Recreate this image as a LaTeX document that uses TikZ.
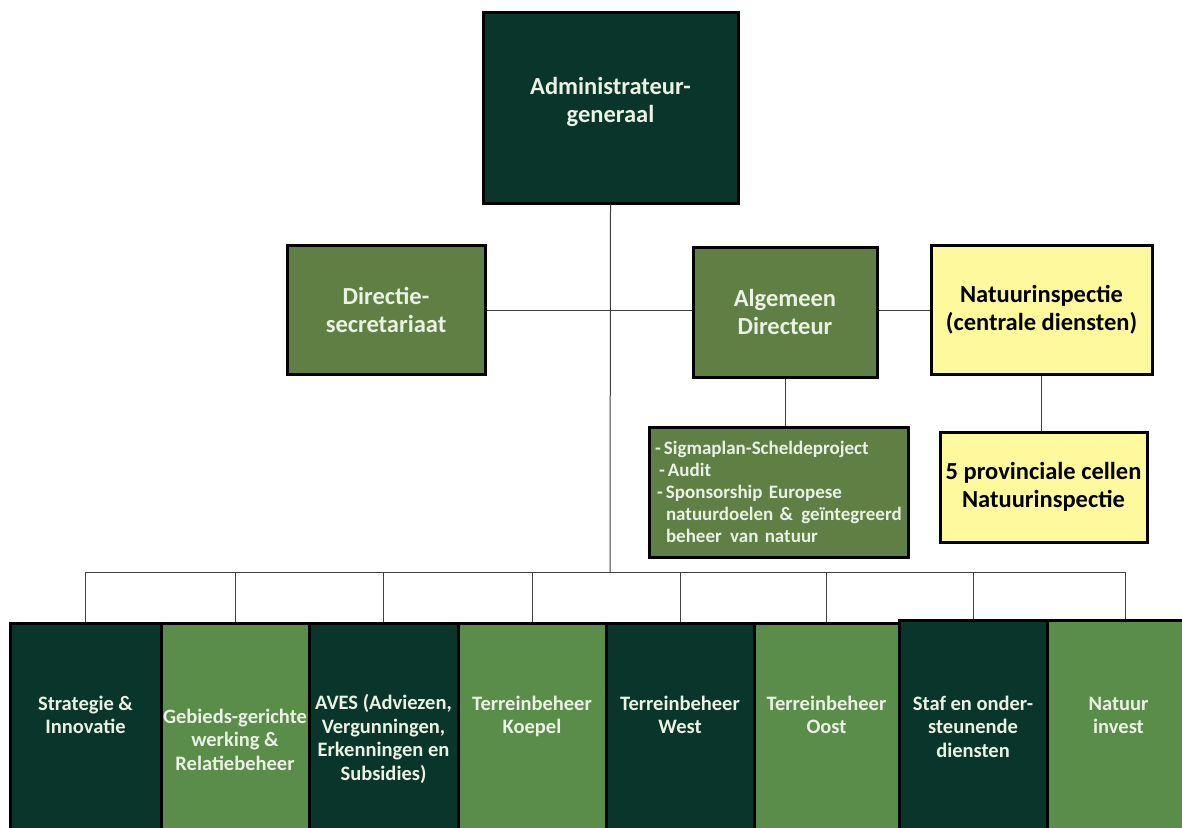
\documentclass[tikz,border=0pt]{standalone}
\usepackage{fontspec}
\setmainfont{Carlito}
\usepackage{xcolor}
\usepackage{tikz}
\usetikzlibrary{positioning,calc}
\definecolor{forest}{HTML}{0A352B}
\definecolor{moss}{HTML}{5F7F44}
\definecolor{leaf}{HTML}{5A8C4A}
\definecolor{straw}{HTML}{FFF99E}
\definecolor{paletext}{HTML}{EAF2E4}

\begin{document}
\begin{tikzpicture}[
  x=1pt, y=-1pt,
  box/.style={draw=black, line width=3pt, inner sep=0pt, align=center},
  head/.style={box, font=\bfseries\fontsize{24.5}{28}\selectfont},
  unit/.style={box, minimum width=#1, minimum height=209},
  unit/.default=148,
  unittext/.style={font=\bfseries\fontsize{20.5}{23.5}\selectfont, align=center, inner sep=0pt, text=paletext},
  link/.style={draw=black!75, line width=1pt}
]
\useasboundingbox[fill=white] (0,0) rectangle (1182,827);

\node[head, fill=forest, text=paletext, minimum width=255, minimum height=191] (admin) at (610.5,107.5) {Administrateur-\\generaal\\[-12pt]\mbox{}};

\node[head, fill=moss, text=paletext, minimum width=198, minimum height=129] (dirsec) at (386,310) {Directie-\\secretariaat};
\node[head, fill=moss, text=paletext, minimum width=184, minimum height=130] (alg) at (785,312) {Algemeen\\Directeur};
\node[head, fill=straw, text=black, minimum width=221, minimum height=129] (insp) at (1041.5,310) {Natuurinspectie\\(centrale diensten)};

\node[box, fill=moss, text=paletext, minimum width=259, minimum height=130, text width=247, align=left,
  font=\bfseries\fontsize{19}{22}\selectfont] (sigma) at (778.5,492) {
  -\,Sigmaplan-Scheldeproject\\
  \hspace*{4pt}-\,Audit\\
  \hspace*{2pt}-\,Sponsorship Europese\\
  \hspace*{11pt}natuurdoelen \& \hspace{2pt}geïntegreerd\\
  \hspace*{11pt}beheer \hspace{2pt}van natuur
};
\node[head, fill=straw, text=black, minimum width=207, minimum height=110] (prov) at (1043.5,487) {5 provinciale cellen\\Natuurinspectie};

\node[unit=151, fill=forest] (strat) at (85.5,727.5) {};
\node[unit=148, fill=leaf] (gebied) at (235,727.5) {};
\node[unit=149, fill=forest] (aves) at (383.5,727.5) {};
\node[unit=148, fill=leaf] (koepel) at (532,727.5) {};
\node[unit=148, fill=forest] (west) at (680,727.5) {};
\node[unit=145, fill=leaf] (oost) at (826.5,727.5) {};
\node[unit=148, fill=forest, minimum height=213] (staf) at (973,726.5) {};
\node[unit=143, fill=leaf, minimum height=213] (invest) at (1118.5,726.5) {};

\node[unittext, below=74pt of strat.north] (stratlbl) {Strategie \&\\Innovatie};
\node[unittext, below=87pt of gebied.north] (gebiedlbl) {Gebieds-gerichte\\werking \&\\Relatiebeheer};
\node[unittext, below=73pt of aves.north] (aveslbl) {AVES (Adviezen,\\Vergunningen,\\Erkenningen en\\Subsidies)};
\node[unittext, below=74pt of koepel.north] (koepellbl) {Terreinbeheer\\Koepel};
\node[unittext, below=74pt of west.north] (westlbl) {Terreinbeheer\\West};
\node[unittext, below=74pt of oost.north] (oostlbl) {Terreinbeheer\\Oost};
\node[unittext, below=77pt of staf.north] (staflbl) {Staf en onder-\\steunende\\diensten};
\node[unittext, below=78pt of invest.north] (investlbl) {Natuur\\invest};

\coordinate (bus) at (610,572);
\coordinate (busend) at (1125,572);

\draw[link] (admin.south) -- (bus);
\draw[link] (dirsec.east) -- (dirsec.east -| alg.west);
\draw[link] (alg.east |- insp.west) -- (insp.west);
\draw[link] (alg.south) -- (alg.south |- sigma.north);
\draw[link] (insp.south) -- (insp.south |- prov.north);

\draw[link] (strat.north |- bus) -- (busend);
\foreach \u in {strat,gebied,aves,koepel,west,oost,staf}
  \draw[link] (\u.north |- bus) -- (\u.north);
\draw[link] (busend) -- (busend |- invest.north);

\end{tikzpicture}
\end{document}
